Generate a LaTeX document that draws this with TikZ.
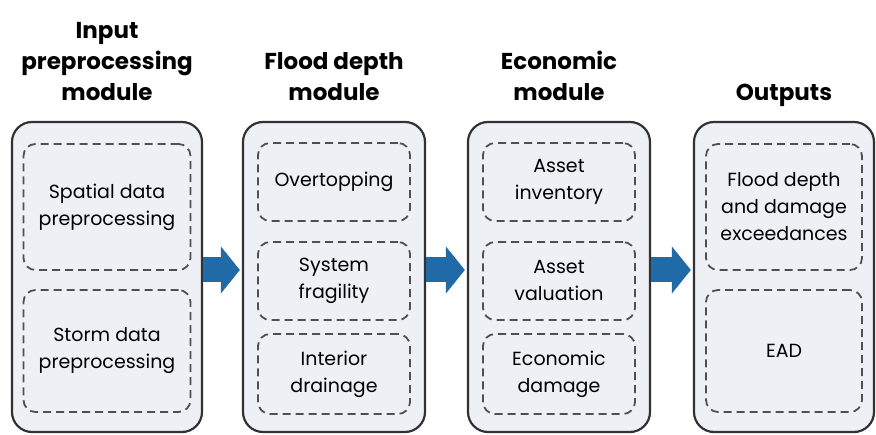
\documentclass[tikz,border=0pt]{standalone}
\usepackage{fontspec}
\setmainfont{Poppins}
\usetikzlibrary{arrows.meta,positioning}
\definecolor{panelfill}{RGB}{237,241,246}
\definecolor{panelline}{RGB}{50,50,50}
\definecolor{dashline}{RGB}{80,80,80}
\definecolor{flowblue}{RGB}{33,106,168}
\begin{document}
\begin{tikzpicture}[x=1pt, y=-1pt,
    module/.style={draw=panelline, line width=2.2pt, fill=panelfill, rounded corners=20pt, minimum height=310pt},
    part/.style={draw=dashline, line width=1.8pt, dash pattern=on 8pt off 5pt, rounded corners=12pt, align=center, font=\fontsize{19}{27}\selectfont},
    heading/.style={align=center, inner sep=0pt, anchor=base, font=\fontsize{23}{31}\selectfont\bfseries},
    flow/.style={draw=flowblue, line width=25pt, -{Triangle[length=19pt,width=46pt]}, shorten >=2pt}]
    \useasboundingbox (0,0) rectangle (876,435);
    % the four stages
    \node[module, minimum width=190pt] (inp) at (107,277) {};
    \node[module, minimum width=182pt] (flood) at (334,277) {};
    \node[module, minimum width=182pt] (econ) at (559,277) {};
    \node[module, minimum width=180pt] (outs) at (784,277) {};
    \node[heading] (ttlinp) at (107,101) {Input\\preprocessing\\module};
    \node[heading] (ttlflood) at (334,101) {Flood depth\\module};
    \node[heading] (ttlecon) at (559,101) {Economic\\module};
    \node[heading] (ttlouts) at (784,101) {Outputs};
    % steps inside each stage
    \node[part, minimum width=167pt, minimum height=126pt] (spatial) at (107,207) {Spatial data\\preprocessing};
    \node[part, minimum width=167pt, minimum height=122pt] (storm) at (107,351) {Storm data\\preprocessing};
    \node[part, minimum width=152pt, minimum height=78pt] (overtop) at (334,182) {Overtopping};
    \node[part, minimum width=152pt, minimum height=78pt] (fragil) at (334,281) {System\\fragility};
    \node[part, minimum width=152pt, minimum height=80pt] (drain) at (334,374) {Interior\\drainage};
    \node[part, minimum width=152pt, minimum height=78pt] (invent) at (559,182) {Asset\\inventory};
    \node[part, minimum width=152pt, minimum height=78pt] (valu) at (559,281) {Asset\\valuation};
    \node[part, minimum width=152pt, minimum height=80pt] (damage) at (559,374) {Economic\\damage};
    \node[part, minimum width=156pt, minimum height=126pt] (exceed) at (784,207) {Flood depth\\and damage\\exceedances};
    \node[part, minimum width=156pt, minimum height=122pt] (ead) at (784,351) {EAD};
    % block arrows between stages
    \draw[flow] ([yshift=7pt]inp.east) -- ([yshift=7pt]flood.west);
    \draw[flow] ([yshift=7pt]flood.east) -- ([yshift=7pt]econ.west);
    \draw[flow] ([yshift=7pt]econ.east) -- ([yshift=7pt]outs.west);
\end{tikzpicture}
\end{document}
